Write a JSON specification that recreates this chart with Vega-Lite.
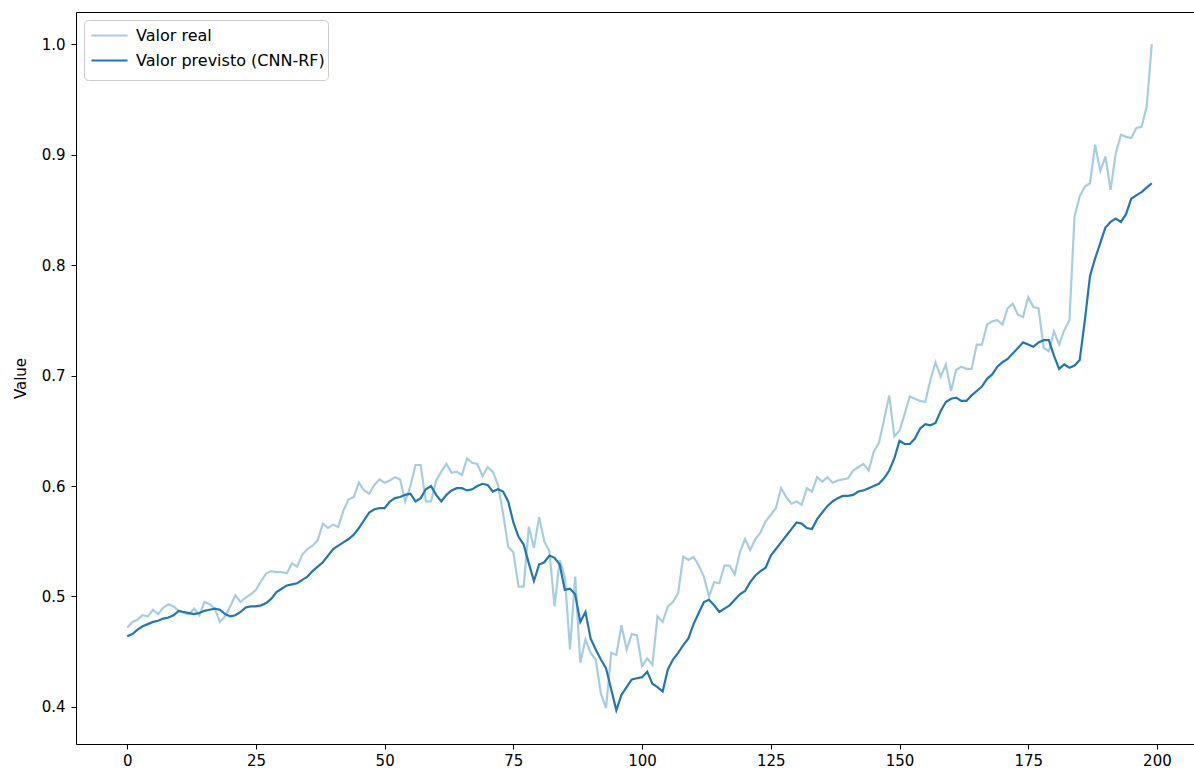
{
 "$schema": "https://vega.github.io/schema/vega-lite/v6.json",
 "width": 1118,
 "height": 732,
 "autosize": {"type": "none"},
 "padding": {"left": 76, "top": 12, "right": 0, "bottom": 30},
 "background": "white",
 "config": {
  "view": {"stroke": null},
  "font": "DejaVu Sans",
  "axis": {"grid": false, "domainColor": "#000000", "domainWidth": 1, "tickColor": "#000000", "tickSize": 5, "labelColor": "#000000", "labelFont": "DejaVu Sans", "labelFontSize": 15, "titleFont": "DejaVu Sans", "titleFontSize": 15, "titleFontWeight": "normal", "titleColor": "#000000"}
 },
 "data": {"values": [
{"i":0,"real":0.472,"prev":0.464},{"i":1,"real":0.477,"prev":0.466},{"i":2,"real":0.479,"prev":0.470},{"i":3,"real":0.483,"prev":0.473},{"i":4,"real":0.482,"prev":0.475},
{"i":5,"real":0.488,"prev":0.477},{"i":6,"real":0.484,"prev":0.478},{"i":7,"real":0.490,"prev":0.480},{"i":8,"real":0.493,"prev":0.481},{"i":9,"real":0.491,"prev":0.483},
{"i":10,"real":0.487,"prev":0.487},{"i":11,"real":0.485,"prev":0.486},{"i":12,"real":0.484,"prev":0.485},{"i":13,"real":0.489,"prev":0.484},{"i":14,"real":0.483,"prev":0.485},
{"i":15,"real":0.495,"prev":0.487},{"i":16,"real":0.493,"prev":0.488},{"i":17,"real":0.489,"prev":0.489},{"i":18,"real":0.477,"prev":0.488},{"i":19,"real":0.482,"prev":0.484},
{"i":20,"real":0.491,"prev":0.482},{"i":21,"real":0.501,"prev":0.483},{"i":22,"real":0.495,"prev":0.486},{"i":23,"real":0.499,"prev":0.490},{"i":24,"real":0.502,"prev":0.491},
{"i":25,"real":0.506,"prev":0.491},{"i":26,"real":0.514,"prev":0.492},{"i":27,"real":0.521,"prev":0.494},{"i":28,"real":0.523,"prev":0.498},{"i":29,"real":0.522,"prev":0.504},
{"i":30,"real":0.522,"prev":0.507},{"i":31,"real":0.521,"prev":0.510},{"i":32,"real":0.530,"prev":0.511},{"i":33,"real":0.527,"prev":0.512},{"i":34,"real":0.538,"prev":0.515},
{"i":35,"real":0.543,"prev":0.518},{"i":36,"real":0.546,"prev":0.523},{"i":37,"real":0.551,"prev":0.527},{"i":38,"real":0.566,"prev":0.531},{"i":39,"real":0.562,"prev":0.537},
{"i":40,"real":0.565,"prev":0.543},{"i":41,"real":0.563,"prev":0.546},{"i":42,"real":0.578,"prev":0.549},{"i":43,"real":0.588,"prev":0.552},{"i":44,"real":0.590,"prev":0.556},
{"i":45,"real":0.603,"prev":0.562},{"i":46,"real":0.596,"prev":0.569},{"i":47,"real":0.593,"prev":0.576},{"i":48,"real":0.601,"prev":0.579},{"i":49,"real":0.606,"prev":0.580},
{"i":50,"real":0.603,"prev":0.580},{"i":51,"real":0.605,"prev":0.586},{"i":52,"real":0.608,"prev":0.589},{"i":53,"real":0.606,"prev":0.590},{"i":54,"real":0.586,"prev":0.592},
{"i":55,"real":0.600,"prev":0.593},{"i":56,"real":0.619,"prev":0.586},{"i":57,"real":0.619,"prev":0.589},{"i":58,"real":0.586,"prev":0.597},{"i":59,"real":0.586,"prev":0.600},
{"i":60,"real":0.605,"prev":0.592},{"i":61,"real":0.613,"prev":0.586},{"i":62,"real":0.620,"prev":0.592},{"i":63,"real":0.612,"prev":0.596},{"i":64,"real":0.613,"prev":0.598},
{"i":65,"real":0.610,"prev":0.598},{"i":66,"real":0.625,"prev":0.596},{"i":67,"real":0.621,"prev":0.597},{"i":68,"real":0.620,"prev":0.600},{"i":69,"real":0.609,"prev":0.602},
{"i":70,"real":0.617,"prev":0.601},{"i":71,"real":0.613,"prev":0.595},{"i":72,"real":0.601,"prev":0.597},{"i":73,"real":0.575,"prev":0.595},{"i":74,"real":0.545,"prev":0.586},
{"i":75,"real":0.540,"prev":0.567},{"i":76,"real":0.509,"prev":0.554},{"i":77,"real":0.509,"prev":0.547},{"i":78,"real":0.563,"prev":0.530},{"i":79,"real":0.544,"prev":0.514},
{"i":80,"real":0.572,"prev":0.529},{"i":81,"real":0.550,"prev":0.531},{"i":82,"real":0.541,"prev":0.537},{"i":83,"real":0.491,"prev":0.535},{"i":84,"real":0.533,"prev":0.529},
{"i":85,"real":0.518,"prev":0.506},{"i":86,"real":0.452,"prev":0.507},{"i":87,"real":0.518,"prev":0.502},{"i":88,"real":0.440,"prev":0.477},{"i":89,"real":0.461,"prev":0.486},
{"i":90,"real":0.449,"prev":0.462},{"i":91,"real":0.443,"prev":0.452},{"i":92,"real":0.412,"prev":0.443},{"i":93,"real":0.399,"prev":0.435},{"i":94,"real":0.449,"prev":0.416},
{"i":95,"real":0.447,"prev":0.397},{"i":96,"real":0.474,"prev":0.411},{"i":97,"real":0.452,"prev":0.418},{"i":98,"real":0.466,"prev":0.425},{"i":99,"real":0.465,"prev":0.426},
{"i":100,"real":0.437,"prev":0.427},{"i":101,"real":0.444,"prev":0.432},{"i":102,"real":0.438,"prev":0.421},{"i":103,"real":0.482,"prev":0.418},{"i":104,"real":0.477,"prev":0.414},
{"i":105,"real":0.491,"prev":0.434},{"i":106,"real":0.495,"prev":0.443},{"i":107,"real":0.503,"prev":0.449},{"i":108,"real":0.536,"prev":0.456},{"i":109,"real":0.533,"prev":0.462},
{"i":110,"real":0.536,"prev":0.475},{"i":111,"real":0.528,"prev":0.485},{"i":112,"real":0.518,"prev":0.495},{"i":113,"real":0.500,"prev":0.497},{"i":114,"real":0.513,"prev":0.492},
{"i":115,"real":0.512,"prev":0.486},{"i":116,"real":0.528,"prev":0.489},{"i":117,"real":0.528,"prev":0.492},{"i":118,"real":0.520,"prev":0.497},{"i":119,"real":0.540,"prev":0.502},
{"i":120,"real":0.552,"prev":0.505},{"i":121,"real":0.542,"prev":0.513},{"i":122,"real":0.552,"prev":0.519},{"i":123,"real":0.558,"prev":0.523},{"i":124,"real":0.568,"prev":0.526},
{"i":125,"real":0.574,"prev":0.537},{"i":126,"real":0.580,"prev":0.543},{"i":127,"real":0.598,"prev":0.549},{"i":128,"real":0.590,"prev":0.555},{"i":129,"real":0.584,"prev":0.561},
{"i":130,"real":0.586,"prev":0.567},{"i":131,"real":0.583,"prev":0.566},{"i":132,"real":0.598,"prev":0.562},{"i":133,"real":0.595,"prev":0.561},{"i":134,"real":0.608,"prev":0.570},
{"i":135,"real":0.604,"prev":0.576},{"i":136,"real":0.608,"prev":0.582},{"i":137,"real":0.603,"prev":0.586},{"i":138,"real":0.605,"prev":0.589},{"i":139,"real":0.606,"prev":0.591},
{"i":140,"real":0.607,"prev":0.591},{"i":141,"real":0.614,"prev":0.592},{"i":142,"real":0.617,"prev":0.595},{"i":143,"real":0.620,"prev":0.596},{"i":144,"real":0.614,"prev":0.598},
{"i":145,"real":0.631,"prev":0.600},{"i":146,"real":0.639,"prev":0.602},{"i":147,"real":0.660,"prev":0.607},{"i":148,"real":0.682,"prev":0.614},{"i":149,"real":0.645,"prev":0.625},
{"i":150,"real":0.650,"prev":0.641},{"i":151,"real":0.665,"prev":0.638},{"i":152,"real":0.681,"prev":0.638},{"i":153,"real":0.679,"prev":0.643},{"i":154,"real":0.677,"prev":0.652},
{"i":155,"real":0.676,"prev":0.656},{"i":156,"real":0.696,"prev":0.655},{"i":157,"real":0.712,"prev":0.657},{"i":158,"real":0.699,"prev":0.668},{"i":159,"real":0.710,"prev":0.676},
{"i":160,"real":0.686,"prev":0.679},{"i":161,"real":0.705,"prev":0.680},{"i":162,"real":0.708,"prev":0.677},{"i":163,"real":0.706,"prev":0.677},{"i":164,"real":0.706,"prev":0.682},
{"i":165,"real":0.728,"prev":0.686},{"i":166,"real":0.728,"prev":0.690},{"i":167,"real":0.746,"prev":0.697},{"i":168,"real":0.749,"prev":0.701},{"i":169,"real":0.750,"prev":0.708},
{"i":170,"real":0.746,"prev":0.712},{"i":171,"real":0.761,"prev":0.715},{"i":172,"real":0.765,"prev":0.720},{"i":173,"real":0.755,"prev":0.725},{"i":174,"real":0.753,"prev":0.730},
{"i":175,"real":0.771,"prev":0.728},{"i":176,"real":0.762,"prev":0.726},{"i":177,"real":0.761,"prev":0.730},{"i":178,"real":0.725,"prev":0.732},{"i":179,"real":0.722,"prev":0.732},
{"i":180,"real":0.740,"prev":0.718},{"i":181,"real":0.728,"prev":0.706},{"i":182,"real":0.741,"prev":0.710},{"i":183,"real":0.750,"prev":0.707},{"i":184,"real":0.844,"prev":0.709},
{"i":185,"real":0.862,"prev":0.714},{"i":186,"real":0.871,"prev":0.750},{"i":187,"real":0.874,"prev":0.790},{"i":188,"real":0.909,"prev":0.806},{"i":189,"real":0.885,"prev":0.820},
{"i":190,"real":0.898,"prev":0.834},{"i":191,"real":0.868,"prev":0.839},{"i":192,"real":0.901,"prev":0.842},{"i":193,"real":0.918,"prev":0.839},{"i":194,"real":0.916,"prev":0.846},
{"i":195,"real":0.915,"prev":0.860},{"i":196,"real":0.924,"prev":0.863},{"i":197,"real":0.925,"prev":0.866},{"i":198,"real":0.943,"prev":0.870},{"i":199,"real":1.000,"prev":0.874}
 ]},
 "transform": [{"fold": ["real", "prev"], "as": ["serie", "valor"]}],
 "layer": [
  {
   "mark": {"type": "line", "strokeWidth": 2.2, "clip": true},
   "encoding": {
    "x": {"field": "i", "type": "quantitative",
     "scale": {"domain": [-9.95, 207.2], "nice": false, "zero": false},
     "axis": {"values": [0, 25, 50, 75, 100, 125, 150, 175, 200], "format": "d", "title": null, "labelPadding": 4}},
    "y": {"field": "valor", "type": "quantitative",
     "scale": {"domain": [0.3665, 1.029], "nice": false, "zero": false},
     "axis": {"values": [0.4, 0.5, 0.6, 0.7, 0.8, 0.9, 1.0], "format": ".1f", "title": "Value", "labelPadding": 6, "titlePadding": 13}},
    "color": {"field": "serie", "type": "nominal",
     "scale": {"domain": ["real", "prev"], "range": ["#a6cee3", "#1f78b4"]},
     "legend": {"title": " ", "titleOrient": "bottom", "titleFontSize": 8, "titlePadding": 0, "orient": "none", "legendX": 8, "legendY": 8,
      "labelExpr": "datum.value == 'real' ? 'Valor real' : 'Valor previsto (CNN-RF)'",
      "symbolType": "M-1.64,0H1.64", "symbolSize": 484, "symbolStrokeWidth": 2.2, "symbolOffset": 10,
      "labelFont": "DejaVu Sans", "labelFontSize": 16, "labelColor": "#000000", "labelOffset": 14, "labelLimit": 400,
      "strokeColor": "#cccccc", "fillColor": "#ffffff", "cornerRadius": 4, "padding": 3, "rowPadding": 4}}
   }
  },
  {
   "mark": {"type": "point", "opacity": 0},
   "encoding": {
    "x": {"field": "i", "type": "quantitative",
     "axis": {"orient": "top", "labels": false, "ticks": false, "title": null, "domain": true}}
   }
  }
 ],
 "resolve": {"axis": {"x": "independent"}}
}
